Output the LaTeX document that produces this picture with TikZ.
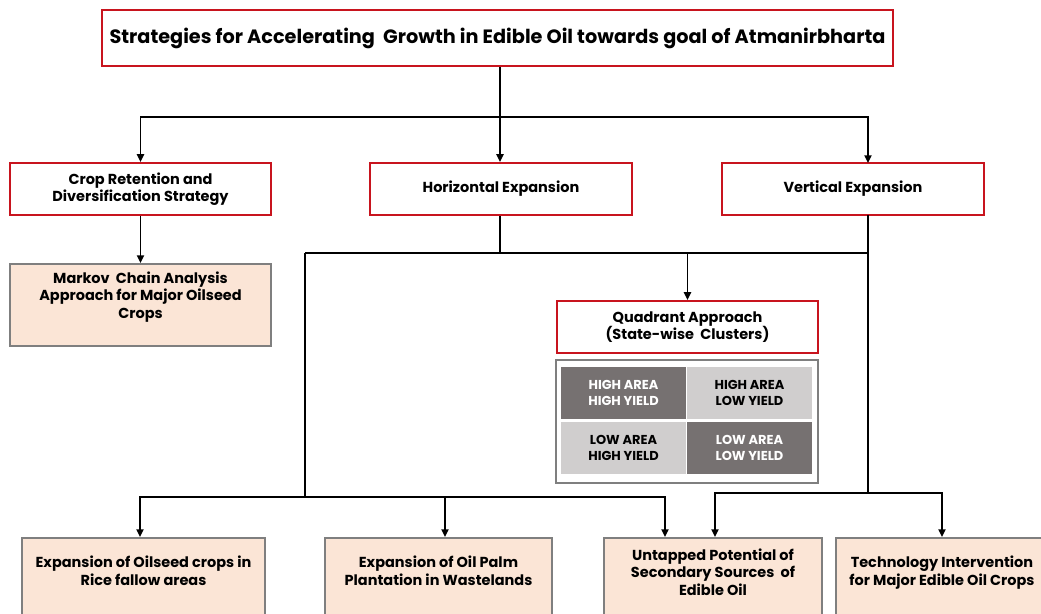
\documentclass[tikz,border=0pt]{standalone}
\usepackage{fontspec}
\setmainfont{Poppins}
\usepackage{tikz}
\usetikzlibrary{arrows.meta,positioning}

\newcommand{\pxu}{0.025cm}
\definecolor{boxred}{RGB}{200,20,30}
\definecolor{peach}{RGB}{251,229,214}
\definecolor{edgegray}{RGB}{127,127,127}
\definecolor{celldark}{RGB}{118,113,113}
\definecolor{celllight}{RGB}{208,206,206}

\tikzset{
  redbox/.style={draw=boxred,line width=1.5pt,fill=white,align=center,
    font=\bfseries\fontsize{10.3}{12.4}\selectfont},
  peachbox/.style={draw=edgegray,line width=1.4pt,fill=peach,align=center,
    font=\bfseries\fontsize{10.3}{12.4}\selectfont,anchor=north,inner sep=0pt},
  cell/.style={minimum width=125*\pxu,minimum height=52*\pxu,align=center,
    font=\bfseries\fontsize{9.2}{11.3}\selectfont},
  link/.style={line width=1.3pt},
}

\begin{document}
\begin{tikzpicture}[x=0.025cm,y=-0.025cm,>={Triangle[length=5.5pt,width=5pt]}]
	\clip (0,0) rectangle (1041,613);
	\fill[white] (0,0) rectangle (1041,613);

	% top level
	\node[redbox,minimum width=791*\pxu,minimum height=56*\pxu,
	      font=\bfseries\fontsize{13.7}{16}\selectfont] (goal) at (497.5,38)
	      {Strategies for Accelerating~ Growth in Edible Oil towards goal of Atmanirbharta};

	% second level
	\node[redbox,minimum width=261*\pxu,minimum height=52*\pxu] (crop) at (140.5,189)
	      {Crop Retention and\\Diversification Strategy};
	\node[redbox,minimum width=262*\pxu,minimum height=52*\pxu] (horiz) at (501,189)
	      {Horizontal Expansion};
	\node[redbox,minimum width=262*\pxu,minimum height=52*\pxu] (vert) at (853,189)
	      {Vertical Expansion};

	\node[peachbox,minimum width=261*\pxu,text height=38.6pt,text depth=19.5pt] (markov) at (140.5,263)
	      {Markov~ Chain Analysis\\Approach for Major Oilseed\\Crops};

	% quadrant approach
	\node[redbox,minimum width=261*\pxu,minimum height=52*\pxu] (quad) at (687.5,327)
	      {Quadrant Approach\\(State-wise~ Clusters)};
	\node[draw=edgegray,line width=1.4pt,fill=white,minimum width=262*\pxu,
	      minimum height=123*\pxu] (grid) at (687,421.5) {};
	\node[cell,fill=celldark,text=white] (hahy) at (623.5,393) {HIGH AREA\\HIGH YIELD};
	\node[cell,fill=celllight] (haly) at (749.5,393) {HIGH AREA\\LOW YIELD};
	\node[cell,fill=celllight] (lahy) at (623.5,448) {LOW AREA\\HIGH YIELD};
	\node[cell,fill=celldark,text=white] (laly) at (749.5,448) {LOW AREA\\LOW YIELD};

	% bottom level
	\node[peachbox,minimum width=243*\pxu,text height=33.7pt,text depth=40pt] (rice) at (143.5,537)
	      {Expansion of Oilseed crops in\\Rice fallow areas};
	\node[peachbox,minimum width=227*\pxu,text height=33.7pt,text depth=40pt] (palm) at (438.5,537)
	      {Expansion of Oil Palm\\Plantation in Wastelands};
	\node[peachbox,minimum width=218*\pxu,text height=40.8pt,text depth=33pt] (untap) at (713,537)
	      {Untapped Potential of\\Secondary Sources~ of\\Edible Oil};
	\node[peachbox,minimum width=212*\pxu,text height=33.7pt,text depth=40pt] (tech) at (942,537)
	      {Technology Intervention\\for Major Edible Oil Crops};

	% junctions
	\coordinate (j_top) at (500,117);
	\coordinate (v_in) at (868,163);
	\coordinate (j_mid) at (500,253);
	\coordinate (v_out) at (868,215);
	\coordinate (j_left) at (305,253);
	\coordinate (j_right) at (868,253);
	\coordinate (j_bl) at (305,497);
	\coordinate (j_br) at (868,493);

	\draw[link] (goal.south -| j_top) -- (j_top);
	\draw[link,->] (j_top) -| (crop.north);
	\draw[link,->] (j_top) -- (horiz.north -| j_top);
	\draw[link,->] (j_top) -| (v_in);

	\draw[link,->] (crop.south) -- (markov.north);

	\draw[link] (horiz.south -| j_mid) -- (j_mid);
	\draw[link] (j_left) -- (j_right);
	\draw[link] (v_out) -- (j_br);
	\draw[link,->] (quad.north |- j_mid) -- (quad.north);

	\draw[link] (j_left) -- (j_bl);
	\draw[link,->] (j_bl) -| (rice.north -| 140,0);
	\draw[link,->] (j_bl) -| (palm.north -| 445,0);
	\draw[link,->] (j_bl) -| (untap.north -| 665,0);

	\draw[link,->] (j_br) -| (untap.north -| 715,0);
	\draw[link,->] (j_br) -| (tech.north);
\end{tikzpicture}
\end{document}
